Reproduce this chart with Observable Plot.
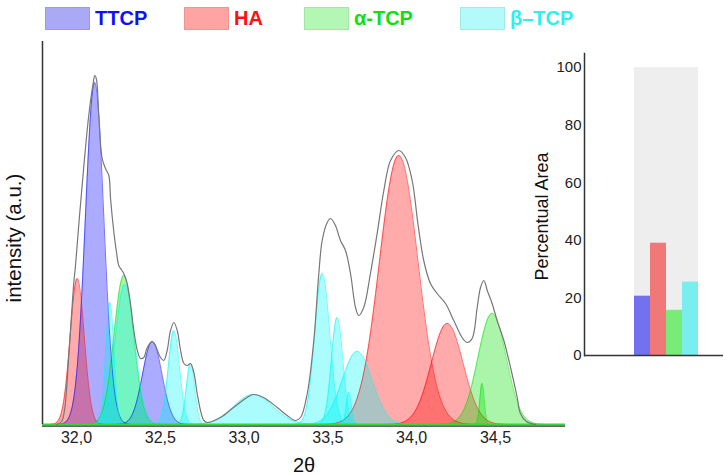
<!DOCTYPE html>
<html><head><meta charset="utf-8">
<script src="https://cdn.jsdelivr.net/npm/d3@7"></script>
<script src="https://cdn.jsdelivr.net/npm/@observablehq/plot@0.6"></script>
<style>
body{margin:0;background:#fff;font-family:"Liberation Sans",Arial,sans-serif;}
#wrap{position:relative;width:725px;height:475px;overflow:hidden;}
#wrap svg{position:absolute;top:0;}
.leg{position:absolute;top:7px;height:23px;display:flex;align-items:center;font-weight:bold;font-size:20px;white-space:nowrap;}
.sw{width:45px;height:23px;box-sizing:border-box;border:1px solid;margin-right:5px;}
</style></head><body><div id="wrap"></div>
<script>
// ---- data ----
const phases = ["TTCP", "HA", "α-TCP", "β-TCP"];
const legendLabels = ["TTCP", "HA", "α-TCP", "β–TCP"];

// fitted peak components (centre 2θ, height in a.u., gaussian width σ)
const peakPhase  = ["TTCP","TTCP","HA","HA","HA","α-TCP","α-TCP","α-TCP","β-TCP","β-TCP","β-TCP","β-TCP","β-TCP","β-TCP","β-TCP","β-TCP","β-TCP"];
const peakCenter = [32.108, 32.452, 32.004, 33.923, 34.212, 32.282, 34.480, 34.420, 32.199, 32.288, 32.581, 32.680, 33.056, 33.466, 33.555, 33.625, 33.675];
const peakHeight = [342, 83, 146, 269, 101, 149, 111, 41, 122, 140, 94, 61, 30, 151, 107, 32, 73];
const peakWidth  = [0.055, 0.058, 0.042, 0.115, 0.095, 0.058, 0.084, 0.013, 0.024, 0.058, 0.034, 0.025, 0.117, 0.045, 0.034, 0.015, 0.090];

// measured envelope
const envTheta = [31.881,31.911,31.928,31.940,31.952,31.964,31.976,31.985,31.994,32.018,32.044,32.073,32.100,32.109,32.118,32.133,32.153,32.173,32.193,32.203,32.223,32.237,32.252,32.263,32.282,32.302,32.322,32.342,32.363,32.382,32.402,32.422,32.452,32.471,32.501,32.521,32.541,32.561,32.581,32.601,32.621,32.641,32.661,32.680,32.700,32.720,32.740,32.760,32.780,32.859,32.937,33.018,33.056,33.116,33.198,33.257,33.307,33.337,33.377,33.416,33.446,33.466,33.496,33.516,33.545,33.575,33.605,33.635,33.665,33.684,33.714,33.754,33.794,33.834,33.874,33.923,33.963,34.003,34.038,34.072,34.112,34.152,34.202,34.251,34.301,34.331,34.361,34.391,34.411,34.431,34.451,34.480,34.510,34.550,34.590,34.630,34.649,34.685,34.739];
const envIntensity = [0,3,14,34,64,94,124,144,159,209,259,309,342,349,346,309,266,256,249,226,192,174,159,156,151,141,121,94,74,66,67,77,83,79,67,64,74,94,102,94,74,61,59,61,52,31,14,4,2,7,17,27,30,27,17,9,4,7,31,84,151,184,202,206,199,184,174,151,117,109,117,151,191,234,264,274,267,244,200,164,141,131,121,104,87,82,86,117,137,144,134,121,104,84,57,27,11,3,0];

// inset: percentual area
const areaPercent = [20.6, 39.0, 15.7, 25.5];

const xTicks = [32, 32.5, 33, 33.5, 34, 34.5];
const xTickLabels = ["32,0", "32,5", "33,0", "33,5", "34,0", "34,5"];
const areaTicks = [0, 20, 40, 60, 80, 100];

// ---- styling ----
const peakColors = ["#0000ff", "#ff0000", "#00e000", "#00f5f5"];
const barColors = ["#7272f0", "#f07878", "#78ec78", "#78eeee"];
const swatchFill = ["#a9a9f5", "#ffa3a3", "#b4f7b4", "#b4fafa"];
const swatchBorder = ["#9a9ae6", "#ee9494", "#a2e6a2", "#a2eaea"];
const textColors = ["#1010ff", "#ff1010", "#10e010", "#30eeee"];
const legendLeft = [45, 184, 304, 460];

// ---- build ----
const curves = [];
peakCenter.forEach((c, i) => {
  for (let k = -80; k <= 80; k++) {
    const t = k / 20;
    curves.push({id: i, phase: peakPhase[i], x: c + t * peakWidth[i], y: peakHeight[i] * Math.exp(-t * t / 2)});
  }
});
const envelope = envTheta.map((t, i) => ({theta: t, intensity: envIntensity[i]}));
const areaData = phases.map((p, i) => ({phase: p, value: areaPercent[i]}));

const wrap = document.getElementById("wrap");
const font = "'Liberation Sans', Arial, sans-serif";

const xMin = 31.797, xMax = 34.918;
const main = Plot.plot({
  width: 725, height: 475,
  marginLeft: 42, marginRight: 160, marginTop: 41, marginBottom: 51,
  x: {domain: [xMin, xMax], ticks: xTicks, tickFormat: d => xTickLabels[xTicks.indexOf(d)], tickSize: 0, tickPadding: 7, label: null},
  y: {domain: [0, 383], axis: null},
  color: {domain: phases, range: peakColors},
  style: {fontFamily: font, fontSize: "16px", color: "#222", background: "transparent", overflow: "visible"},
  marks: [
    Plot.areaY(curves, {x: "x", y1: () => 0, y2: "y", z: "id", fill: "phase", fillOpacity: 0.33}),
    Plot.lineY(curves, {x: "x", y: "y", z: "id", stroke: "phase", strokeOpacity: 0.55, strokeWidth: 1}),
    Plot.ruleY([0], {stroke: "#333", strokeWidth: 1.5, dy: 1.5}),
    Plot.ruleY([0], {stroke: "#3ad43a", strokeWidth: 2}),
    Plot.lineY(envelope, {x: "theta", y: "intensity", stroke: "#777", strokeWidth: 1.2, curve: "catmull-rom"}),
    Plot.ruleX([xMin], {stroke: "#333", strokeWidth: 1.5}),
    Plot.text(["intensity (a.u.)"], {frameAnchor: "left", textAnchor: "middle", lineAnchor: "middle", rotate: -90, dx: -28, dy: 5, fontSize: 20.5, fill: "#111"}),
    Plot.text(["2θ"], {frameAnchor: "bottom", textAnchor: "middle", lineAnchor: "middle", dy: 41, fontSize: 20, fill: "#111"})
  ]
});
main.style.left = "0px";
wrap.appendChild(main);

const inset = Plot.plot({
  width: 205, height: 475,
  marginLeft: 64, marginRight: 2, marginTop: 53, marginBottom: 120,
  x: {domain: phases, paddingInner: 0, paddingOuter: 2.277, align: 0.662, axis: null},
  y: {domain: [0, 104.9], ticks: areaTicks, tickSize: 0, tickPadding: 3, label: null},
  color: {domain: phases, range: barColors},
  style: {fontFamily: font, fontSize: "15px", color: "#222", background: "transparent", overflow: "visible"},
  marks: [
    Plot.barY(phases, {x: d => d, y: () => 100, fill: "#eeeeee"}),
    Plot.barY(areaData, {x: "phase", y: "value", fill: "phase"}),
    Plot.ruleY([0], {stroke: "#333", strokeWidth: 1.5}),
    Plot.frame({anchor: "left", stroke: "#333", strokeWidth: 1.5}),
    Plot.text(["Percentual Area"], {frameAnchor: "left", textAnchor: "middle", lineAnchor: "middle", rotate: -90, dx: -42, dy: 12, fontSize: 18, fill: "#111"})
  ]
});
inset.style.left = "520px";
wrap.appendChild(inset);

legendLabels.forEach((lab, i) => {
  const d = document.createElement("div");
  d.className = "leg";
  d.style.left = legendLeft[i] + "px";
  d.innerHTML = `<div class="sw" style="background:${swatchFill[i]};border-color:${swatchBorder[i]}"></div><span style="color:${textColors[i]}">${lab}</span>`;
  wrap.appendChild(d);
});
</script></body></html>
